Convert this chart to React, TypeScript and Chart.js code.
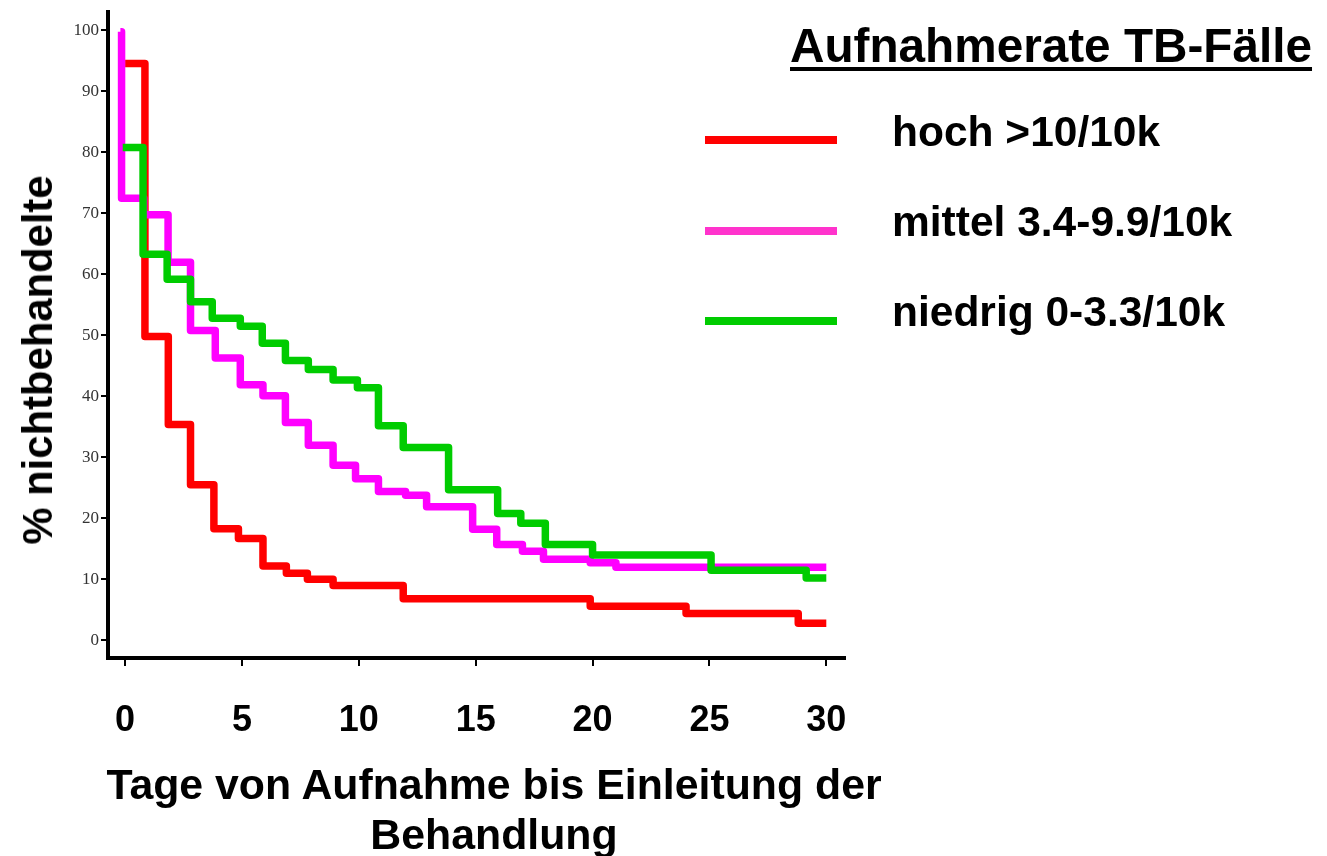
import React, { useEffect, useRef } from "react";
import { Chart, registerables } from "chart.js";

Chart.register(...registerables);

// ---- data ----
const xTickValues = [0, 5, 10, 15, 20, 25, 30];
const yTickValues = [0, 10, 20, 30, 40, 50, 60, 70, 80, 90, 100];

const seriesLabels = ["hoch >10/10k", "mittel 3.4-9.9/10k", "niedrig 0-3.3/10k"];
const seriesColors = ["#ff0000", "#ff00ff", "#00cc00"];
const legendColors = ["#ff0000", "#ff33cc", "#00cc00"];
const legendTitle = "Aufnahmerate TB-Fälle";
const yTitle = "% nichtbehandelte";
const xTitleLines = ["Tage von Aufnahme bis Einleitung der", "Behandlung"];

const hochDays = [0, 0.85, 1.85, 2.8, 3.8, 4.85, 5.9, 6.9, 7.8, 8.9, 11.9, 19.9, 24.0, 28.8, 30.0];
const hochValues = [94.6, 49.8, 35.4, 25.5, 18.3, 16.7, 12.2, 11.0, 10.0, 9.0, 6.8, 5.6, 4.4, 2.8, 2.8];

const mittelDays = [-0.2, -0.15, 0.8, 1.84, 2.8, 3.86, 4.93, 5.9, 6.86, 7.84, 8.9, 9.86, 10.84, 12.0, 12.9, 14.87, 15.9, 17.0, 17.9, 19.9, 21.0, 30.0];
const mittelValues = [99.8, 72.5, 69.8, 62.0, 50.8, 46.3, 41.9, 40.1, 35.7, 32.0, 28.7, 26.5, 24.4, 23.8, 21.9, 18.2, 15.7, 14.6, 13.3, 12.7, 12.0, 12.0];

const niedrigDays = [-0.1, 0.77, 1.8, 2.8, 3.73, 4.93, 5.87, 6.86, 7.84, 8.9, 9.94, 10.84, 11.9, 13.84, 15.94, 16.93, 17.98, 20.0, 25.07, 29.14, 30.0];
const niedrigValues = [80.8, 63.3, 59.2, 55.5, 52.8, 51.5, 48.7, 45.9, 44.4, 42.7, 41.4, 35.2, 31.6, 24.7, 20.8, 19.2, 15.7, 14.0, 11.5, 10.2, 10.2];

const toPoints = (xs: number[], ys: number[]) => xs.map((x, i) => ({ x, y: ys[i] }));

const SANS = "'Liberation Sans', Arial, sans-serif";
const SERIF = "'Liberation Serif', 'DejaVu Serif', serif";

export default function App() {
  const canvasRef = useRef<HTMLCanvasElement | null>(null);

  useEffect(() => {
    if (!canvasRef.current) return;
    const series = [
      toPoints(hochDays, hochValues),
      toPoints(mittelDays, mittelValues),
      toPoints(niedrigDays, niedrigValues),
    ];
    const chart = new Chart(canvasRef.current, {
      type: "line",
      data: {
        datasets: series.map((pts, i) => ({
          label: seriesLabels[i],
          data: pts,
          borderColor: seriesColors[i],
          backgroundColor: seriesColors[i],
          borderWidth: 7.5,
          stepped: true,
          pointRadius: 0,
          fill: false,
          borderCapStyle: "butt",
          borderJoinStyle: "round",
          order: 3 - i,
        })),
      },
      options: {
        animation: false,
        responsive: false,
        devicePixelRatio: 1,
        layout: { padding: { left: 0, top: 5, right: 482, bottom: 0 } },
        plugins: {
          legend: { display: false },
          tooltip: { enabled: false },
        },
        scales: {
          x: {
            type: "linear",
            min: -0.73,
            max: 30.8,
            afterBuildTicks: (s: any) => {
              s.ticks = xTickValues.map((v) => ({ value: v }));
            },
            afterFit: (s: any) => {
              s.height = 198;
            },
            grid: {
              display: true,
              drawOnChartArea: false,
              drawTicks: true,
              tickLength: 8,
              color: "#000",
              lineWidth: 2,
            },
            border: { display: true, color: "#000", width: 4 },
            ticks: {
              autoSkip: false,
              maxRotation: 0,
              padding: 33,
              color: "#000",
              font: { family: SANS, weight: "bold", size: 36 },
            },
          },
          y: {
            type: "linear",
            min: -2.9,
            max: 103,
            afterBuildTicks: (s: any) => {
              s.ticks = yTickValues.map((v) => ({ value: v }));
            },
            afterFit: (s: any) => {
              s.width = 108;
            },
            grid: {
              display: true,
              drawOnChartArea: false,
              drawTicks: true,
              tickLength: 7,
              color: "#000",
              lineWidth: 2,
            },
            border: { display: true, color: "#000", width: 4 },
            ticks: {
              padding: 2,
              color: "#333",
              font: { family: SERIF, size: 17 },
            },
          },
        },
      } as any,
    });
    return () => chart.destroy();
  }, []);

  const legendTops = [111, 201, 291];
  const lineYs = [140, 231, 321];

  return (
    <div style={{ position: "absolute", left: 0, top: 0, width: 1327, height: 856, background: "#fff" }}>
      <canvas ref={canvasRef} width={1327} height={856} style={{ display: "block", width: 1327, height: 856 }} />
      <div
        style={{
          position: "absolute",
          left: 38,
          top: 360,
          transform: "translate(-50%, -50%) rotate(-90deg)",
          whiteSpace: "nowrap",
          fontFamily: SANS,
          fontWeight: "bold",
          fontSize: 41.8,
          lineHeight: "42px",
          color: "#000",
        }}
      >
        {yTitle}
      </div>
      <div
        style={{
          position: "absolute",
          left: 494,
          top: 759,
          transform: "translateX(-50%)",
          whiteSpace: "nowrap",
          textAlign: "center",
          fontFamily: SANS,
          fontWeight: "bold",
          fontSize: 42.8,
          lineHeight: "50px",
          color: "#000",
        }}
      >
        {xTitleLines.map((l, i) => (
          <div key={i}>{l}</div>
        ))}
      </div>
      <div
        style={{
          position: "absolute",
          left: 790,
          top: 22,
          whiteSpace: "nowrap",
          fontFamily: SANS,
          fontWeight: "bold",
          fontSize: 47.7,
          lineHeight: "47px",
          color: "#000",
          textDecoration: "underline",
          textDecorationThickness: "4px",
          textUnderlineOffset: "5px",
        }}
      >
        {legendTitle}
      </div>
      {seriesLabels.map((label, i) => (
        <React.Fragment key={label}>
          <div
            style={{
              position: "absolute",
              left: 705,
              top: lineYs[i] - 4,
              width: 132,
              height: 8,
              background: legendColors[i],
            }}
          />
          <div
            style={{
              position: "absolute",
              left: 892,
              top: legendTops[i],
              whiteSpace: "nowrap",
              fontFamily: SANS,
              fontWeight: "bold",
              fontSize: 42.5,
              lineHeight: "42px",
              color: "#000",
            }}
          >
            {label}
          </div>
        </React.Fragment>
      ))}
    </div>
  );
}
